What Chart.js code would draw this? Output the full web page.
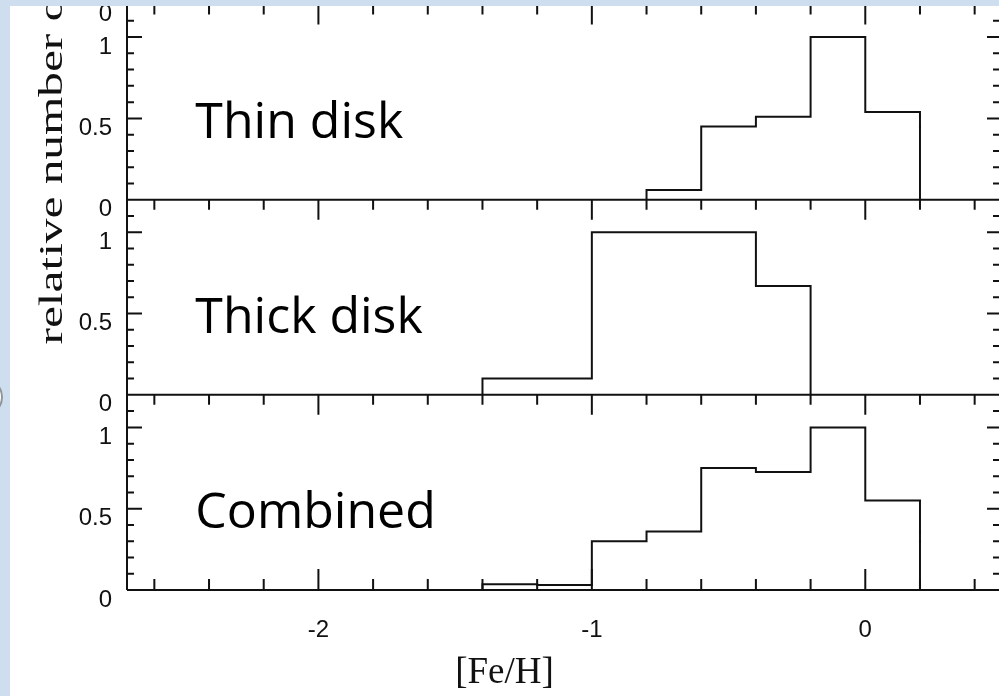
<!DOCTYPE html>
<html>
<head>
<meta charset="utf-8">
<title>[Fe/H] distributions</title>
<script src="https://cdn.jsdelivr.net/npm/chart.js@4.4.1/dist/chart.umd.min.js"></script>
<style>
  html, body { margin: 0; padding: 0; }
  body { width: 999px; height: 696px; background: #cfdeef; overflow: hidden; position: relative; }
  .knob { position: absolute; left: -37px; top: 377px; width: 36px; height: 36px; border-radius: 50%; background: #fff; border: 2px solid #8c949c; }
  .sheet { position: absolute; left: 10px; top: 6px; right: 0; bottom: 0; background: #fff; overflow: hidden; }
  .plot { position: absolute; left: -10px; top: -226px; width: 1012px; height: 916px; }
</style>
</head>
<body>
<div class="knob"></div>
<div class="sheet">
  <div class="plot"><canvas id="feh-canvas"></canvas></div>
</div>
<script>
// histogram bins are 0.2 dex wide, values are normalised to the peak bin
var binWidth = 0.2;
var thinStart = -0.8;
var thinValues = [0.06, 0.45, 0.51, 1.0, 0.54];
var thickStart = -1.4;
var thickValues = [0.1, 0.1, 1.0, 1.0, 1.0, 0.67];
var combinedStart = -1.4;
var combinedValues = [0.035, 0.03, 0.30, 0.36, 0.75, 0.725, 1.0, 0.55];

var panelNames = ['Thin disk', 'Thick disk', 'Combined'];
var xTickLabels = [-2, -1, 0];
var yTickLabels = [0, 0.5, 1];

var ink = '#111';
var panelIds = ['yThin', 'yThick', 'yComb'];

// outline of a histogram as a stepped line: up at the first edge, down at the last
function histogramOutline(start, values) {
  var pts = [{ x: start, y: 0 }];
  values.forEach(function (v, i) {
    pts.push({ x: start + i * binWidth, y: v });
  });
  pts.push({ x: start + values.length * binWidth, y: 0 });
  return pts;
}

function outlineDataset(axisId, start, values) {
  return {
    data: histogramOutline(start, values),
    yAxisID: axisId,
    xAxisID: 'x',
    stepped: 'before',
    borderColor: ink,
    borderWidth: 2,
    borderJoinStyle: 'miter',
    pointRadius: 0,
    fill: false
  };
}

function panelAxis(weight) {
  return {
    type: 'linear',
    position: 'left',
    stack: 'panels',
    weight: weight,
    min: 0,
    max: 1.2,
    grid: { display: false, drawTicks: false },
    border: { display: false },
    afterBuildTicks: function (scale) {
      scale.ticks = yTickLabels.map(function (v) { return { value: v }; });
    },
    afterFit: function (scale) {
      scale.width = 127;
    },
    ticks: {
      color: ink,
      padding: 15,
      labelOffset: 10,
      font: { family: '"Liberation Sans", Arial, sans-serif', size: 24 },
      callback: function (v) { return String(v); }
    }
  };
}

// frame, inward tick marks, panel names and axis titles
var panelFrame = {
  id: 'panelFrame',
  afterDraw: function (chart) {
    var ctx = chart.ctx;
    var xs = chart.scales.x;
    var left = chart.chartArea.left;
    var right = chart.chartArea.right;

    ctx.save();
    ctx.strokeStyle = ink;
    ctx.lineWidth = 2;
    ctx.beginPath();
    panelIds.forEach(function (id, p) {
      var ys = chart.scales[id];
      var y0 = ys.getPixelForValue(0);
      var yTop = ys.top;

      ctx.moveTo(left, y0);
      ctx.lineTo(right, y0);
      ctx.moveTo(left, yTop);
      ctx.lineTo(left, y0);
      ctx.moveTo(right, yTop);
      ctx.lineTo(right, y0);

      for (var k = 0; k < 12; k++) {
        var py = ys.getPixelForValue(k / 10);
        var major = k % 5 === 0;
        ctx.moveTo(left, py);
        ctx.lineTo(left + (major ? 15 : 7), py);
        ctx.moveTo(right, py);
        ctx.lineTo(right - (major ? 15 : 9), py);
      }

      for (var j = -13; j <= 2; j++) {
        var px = xs.getPixelForValue(j / 5);
        var len = j % 5 === 0 ? 20 : 10;
        ctx.moveTo(px, yTop);
        ctx.lineTo(px, yTop + len);
        if (p === panelIds.length - 1) {
          ctx.moveTo(px, y0);
          ctx.lineTo(px, y0 - len - 1);
        }
      }
    });
    ctx.stroke();

    ctx.fillStyle = '#000';
    ctx.font = '50px "Open Sans", sans-serif';
    ctx.textAlign = 'left';
    ctx.textBaseline = 'alphabetic';
    panelIds.forEach(function (id, p) {
      ctx.fillText(panelNames[p], xs.getPixelForValue(-2.45), chart.scales[id].getPixelForValue(0.38));
    });

    ctx.fillStyle = ink;
    ctx.font = '37px "Liberation Serif", serif';
    ctx.textAlign = 'center';
    ctx.fillText('[Fe/H]', (xs.left + xs.right) / 2 - 60, xs.top + 93);

    ctx.translate(left - 65, chart.scales.yThick.getPixelForValue(0.31));
    ctx.rotate(-Math.PI / 2);
    ctx.scale(1.45, 1);
    ctx.font = '34px "Liberation Serif", serif';
    ctx.textAlign = 'left';
    ctx.fillText('relative number of stars', 0, 0);
    ctx.restore();
  }
};

new Chart(document.getElementById('feh-canvas'), {
  type: 'line',
  data: {
    datasets: [
      outlineDataset('yThin', thinStart, thinValues),
      outlineDataset('yThick', thickStart, thickValues),
      outlineDataset('yComb', combinedStart, combinedValues)
    ]
  },
  options: {
    responsive: true,
    maintainAspectRatio: false,
    devicePixelRatio: 1,
    animation: false,
    events: [],
    layout: { padding: { top: 0, right: 10, bottom: 0, left: 0 } },
    plugins: { legend: { display: false }, tooltip: { enabled: false } },
    scales: {
      x: {
        type: 'linear',
        position: 'bottom',
        min: -2.7,
        max: 0.5,
        grid: { display: false, drawTicks: false },
        border: { display: false },
        afterBuildTicks: function (scale) {
          scale.ticks = xTickLabels.map(function (v) { return { value: v }; });
        },
        afterFit: function (scale) {
          scale.height = 106;
        },
        ticks: {
          color: ink,
          padding: 26,
          maxRotation: 0,
          font: { family: '"Liberation Sans", Arial, sans-serif', size: 24 },
          callback: function (v) { return String(v); }
        }
      },
      // the panel above the thin disk is cut off; only its zero label shows
      yAbove: panelAxis(4),
      yThin: panelAxis(3),
      yThick: panelAxis(2),
      yComb: panelAxis(1)
    }
  },
  plugins: [panelFrame]
});
</script>
</body>
</html>
